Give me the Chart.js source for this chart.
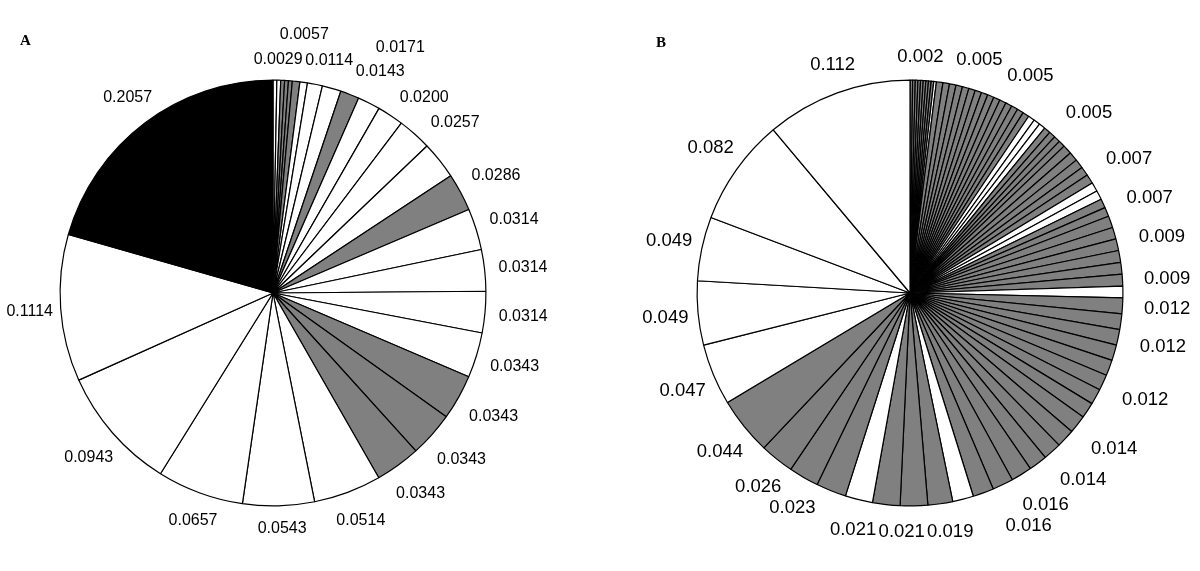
<!DOCTYPE html>
<html>
<head>
<meta charset="utf-8">
<script src="https://cdn.jsdelivr.net/npm/chart.js@4.4.0/dist/chart.umd.min.js"></script>
<style>
  html, body { margin: 0; padding: 0; background: #fff; }
  #wrap { position: relative; width: 1200px; height: 571px; overflow: hidden; }
  canvas { position: absolute; top: 0; }
  #pieA { left: 0; }
  #pieB { left: 600px; }
  .panel { position: absolute; font: bold 15px "Liberation Serif", "Times New Roman", serif; color: #000; }
</style>
</head>
<body>
<div id="wrap">
  <canvas id="pieA" width="600" height="571"></canvas>
  <canvas id="pieB" width="600" height="571"></canvas>
  <div class="panel" style="left:20px; top:32px;">A</div>
  <div class="panel" style="left:656px; top:34px;">B</div>
</div>
<script>
// panel A: slice proportions, clockwise from 12 o'clock
const valuesA = [0.0029, 0.0029, 0.0029, 0.0029, 0.0029, 0.0057, 0.0057, 0.0114,
  0.0143, 0.0143, 0.0171, 0.0200, 0.0257, 0.0286, 0.0286, 0.0314, 0.0314, 0.0314,
  0.0343, 0.0343, 0.0343, 0.0343, 0.0514, 0.0543, 0.0657, 0.0943, 0.1114, 0.2057];
// group of each slice: W = white, G = grey, K = black
const groupA = ['W', 'W', 'G', 'G', 'G', 'G', 'W', 'W',
  'W', 'G', 'W', 'W', 'W', 'W', 'G', 'W', 'W', 'W',
  'W', 'G', 'G', 'G', 'W', 'W', 'W', 'W', 'W', 'K'];
// slices that carry a value label
const labeledA = [0, 5, 7, 9, 10, 11, 12, 14, 15, 16, 17, 18, 19, 20, 21, 22, 23, 24, 25, 26, 27];

// panel B
const valuesB = [
  0.002, 0.002, 0.002, 0.002, 0.002, 0.002, 0.002, 0.002, 0.002, 0.002,
  0.005, 0.005, 0.005, 0.005, 0.005, 0.005, 0.005, 0.005, 0.005, 0.005, 0.005,
  0.005, 0.005, 0.005, 0.005, 0.005, 0.005, 0.005, 0.005, 0.005, 0.005, 0.005,
  0.007, 0.007, 0.007, 0.007, 0.007, 0.007, 0.007, 0.007, 0.007,
  0.009, 0.009, 0.009, 0.009, 0.009, 0.009, 0.009,
  0.012, 0.012, 0.012, 0.012, 0.012, 0.012, 0.012, 0.012,
  0.014, 0.014, 0.014, 0.014,
  0.016, 0.016, 0.016, 0.016,
  0.019,
  0.021, 0.021, 0.021,
  0.023, 0.023,
  0.026,
  0.044, 0.047, 0.049, 0.049, 0.082, 0.112];
const groupB = [
  'G', 'G', 'G', 'G', 'G', 'G', 'G', 'G', 'G', 'W',
  'G', 'G', 'G', 'G', 'G', 'G', 'G', 'G', 'G', 'G', 'G',
  'G', 'G', 'G', 'G', 'W', 'W', 'W', 'G', 'G', 'G', 'G',
  'G', 'G', 'G', 'G', 'G', 'W', 'W', 'G', 'G',
  'G', 'G', 'G', 'G', 'G', 'G', 'W',
  'G', 'G', 'G', 'G', 'G', 'G', 'G', 'G',
  'G', 'G', 'G', 'G',
  'G', 'G', 'G', 'W',
  'G',
  'G', 'G', 'W',
  'G', 'G',
  'G',
  'G', 'W', 'W', 'W', 'W', 'W'];
const labeledB = [1, 14, 21, 30, 36, 40, 43, 46, 48, 50, 53, 56, 58, 60, 61, 64,
  65, 67, 69, 70, 71, 72, 73, 74, 75, 76];

const groupColors = { W: '#ffffff', G: '#808080', K: '#000000' };

// value labels just outside the rim; nudged along / away from the rim when they collide
const outsideLabels = {
  id: 'outsideLabels',
  afterDatasetsDraw(chart, args, opts) {
    const ctx = chart.ctx;
    const meta = chart.getDatasetMeta(0);
    const values = chart.data.datasets[0].data;
    const h = opts.boxHeight;
    const pad = 2;
    const placed = [];
    ctx.save();
    ctx.font = opts.font;
    ctx.fillStyle = '#000';
    ctx.textAlign = 'center';
    ctx.textBaseline = 'middle';

    const hits = (b) => placed.some(p =>
      b[0] - pad < p[2] && b[2] + pad > p[0] && b[1] - pad < p[3] && b[3] + pad > p[1]);

    opts.show.forEach(i => {
      const arc = meta.data[i];
      const text = values[i].toFixed(opts.digits);
      const w = ctx.measureText(text).width;
      const mid = (arc.startAngle + arc.endAngle) / 2;
      let best = null;
      for (let s = 0; s <= 30; s++) {
        for (let dr = 0; dr <= 50; dr += 2) {
          const cost = s * 0.5 * opts.angleCost + dr * 0.5;
          if (best && cost >= best.cost) continue;
          const a = mid + (s * 0.5) * Math.PI / 180;
          const ux = Math.cos(a), uy = Math.sin(a);
          const ext = Math.abs(ux) * w / 2 + Math.abs(uy) * h / 2;
          const d = arc.outerRadius + opts.gap + ext + dr;
          const cx = arc.x + ux * d + opts.shiftX, cy = arc.y + uy * d;
          const box = [cx - w / 2, cy - h / 2, cx + w / 2, cy + h / 2];
          if (!hits(box)) best = { cost, cx, cy, box };
        }
      }
      placed.push(best.box);
      ctx.fillText(text, best.cx, best.cy + 1);
    });
    ctx.restore();
  }
};

function makePie(id, values, groups, shown, digits, padding, label) {
  return new Chart(document.getElementById(id), {
    type: 'pie',
    data: {
      labels: values.map((v, i) => String(i + 1)),
      datasets: [{
        data: values,
        backgroundColor: groups.map(g => groupColors[g]),
        borderColor: '#000000',
        borderWidth: 1.2
      }]
    },
    options: {
      responsive: false,
      animation: false,
      events: [],
      layout: { padding: padding },
      plugins: {
        legend: { display: false },
        tooltip: { enabled: false },
        outsideLabels: Object.assign({ show: shown, digits: digits }, label)
      }
    },
    plugins: [outsideLabels]
  });
}

makePie('pieA', valuesA, groupA, labeledA, 4,
  { left: 59.5, top: 79.5, right: 113.5, bottom: 64.5 },
  { font: '16px "Liberation Sans", Arial, sans-serif', boxHeight: 22, gap: 10, shiftX: 3, angleCost: 3 });
makePie('pieB', valuesB, groupB, labeledB, 3,
  { left: 96.5, top: 79.5, right: 76.5, bottom: 64.5 },
  { font: '18.5px "Liberation Sans", Arial, sans-serif', boxHeight: 18, gap: 15, shiftX: 6, angleCost: 2.2 });
</script>
</body>
</html>
